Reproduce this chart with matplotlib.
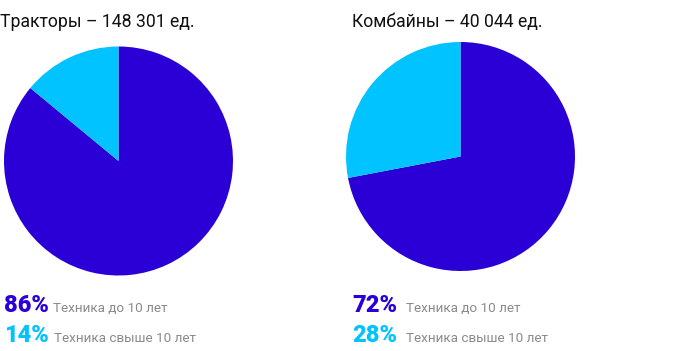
import matplotlib
matplotlib.use("Agg")
import matplotlib.pyplot as plt

titles = ["Тракторы – 148 301 ед.", "Комбайны – 40 044 ед."]
labels = ["Техника до 10 лет", "Техника свыше 10 лет"]
tractors = [86, 14]
combines = [72, 28]
colors = ["#2a00d6", "#00c3ff"]

W, H = 700, 351
fig = plt.figure(figsize=(W / 100, H / 100), dpi=100)
ax = fig.add_axes([0, 0, 1, 1])
ax.set_xlim(0, W)
ax.set_ylim(0, H)
ax.set_aspect("equal")
ax.axis("off")

def Y(y):
    return H - y

panels = [
    dict(vals=tractors, title=titles[0], cx=118.5, cy=161, tx=0, px=4, lx=[53, 54]),
    dict(vals=combines, title=titles[1], cx=460.5, cy=156.5, tx=352, px=352, lx=[406, 406]),
]
R = 114.5

for p in panels:
    ax.pie(p["vals"], colors=colors, startangle=90, counterclock=False,
           center=(p["cx"], Y(p["cy"])), radius=R,
           wedgeprops=dict(linewidth=0))
    ax.text(p["tx"], Y(27), p["title"], fontsize=12.7, family="Roboto",
            color="#111111", ha="left", va="baseline")
    for i, (v, lab) in enumerate(zip(p["vals"], labels)):
        base = [312, 341.5][i]
        ax.text(p["px"], Y(base), f"{v}%", fontsize=17, family="Roboto",
                fontweight="black", color=colors[i], ha="left", va="baseline")
        ax.text(p["lx"][i], Y(base), lab, fontsize=9.7, family="Roboto",
                color="#8a8a8a", ha="left", va="baseline")

ax.set_xlim(0, W)
ax.set_ylim(0, H)
fig.savefig("out.png", dpi=100)
